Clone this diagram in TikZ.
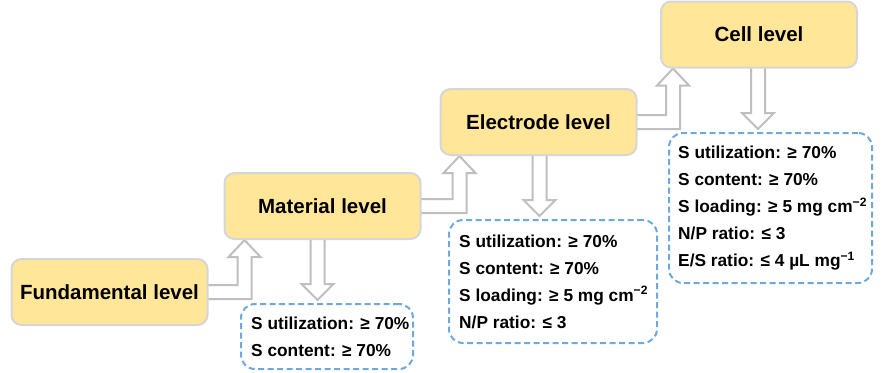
\documentclass[tikz,border=0pt]{standalone}
\usepackage{fontspec}
\setmainfont{Liberation Sans}
\usetikzlibrary{calc}
\pgfdeclarelayer{bg}
\pgfsetlayers{bg,main}
\definecolor{boxfill}{HTML}{FFE699}
\definecolor{boxline}{HTML}{D6D6D6}
\definecolor{arrline}{HTML}{BFBFBF}
\definecolor{dashblue}{HTML}{6FA8DC}
\tikzset{
 levelbox/.style={draw=boxline, line width=2pt, fill=boxfill, rounded corners=10pt,
   minimum width=196pt, minimum height=66pt, inner sep=0pt,
   font=\fontsize{20.5}{24}\selectfont\bfseries},
 specbox/.style={draw=dashblue, line width=2pt, dash pattern=on 6pt off 3.5pt,
   rounded corners=14pt, inner sep=0pt},
 spectext/.style={align=left, inner sep=0pt, anchor=west,
   font=\fontsize{17.3}{27}\selectfont\bfseries},
 hollow/.style={draw=arrline, line width=2pt, fill=white, line join=miter}
}
\newcommand\upelbow[3]{%
 \begin{pgfonlayer}{bg}
 \draw[hollow] let \p1=(#1.east), \p2=(#2.south west) in
  (\x1-4pt,\y1+7pt) -- (\x2+#3pt-7pt,\y1+7pt) -- (\x2+#3pt-7pt,\y2-17pt)
  -- (\x2+#3pt-16pt,\y2-17pt) -- (\x2+#3pt,\y2) -- (\x2+#3pt+16pt,\y2-17pt)
  -- (\x2+#3pt+7pt,\y2-17pt) -- (\x2+#3pt+7pt,\y1-7pt) -- (\x1-4pt,\y1-7pt) -- cycle;
 \end{pgfonlayer}}
\newcommand\downarr[3]{%
 \begin{pgfonlayer}{bg}
 \draw[hollow] let \p1=([xshift=#3]#1.south), \p2=(#2.north) in
  (\x1-7pt,\y1+4pt) -- (\x1-7pt,\y2+19pt) -- (\x1-16pt,\y2+19pt) -- (\x1,\y2+3pt)
  -- (\x1+16pt,\y2+19pt) -- (\x1+7pt,\y2+19pt) -- (\x1+7pt,\y1+4pt) -- cycle;
 \end{pgfonlayer}}
\begin{document}
\begin{tikzpicture}[x=1pt,y=-1pt]
\useasboundingbox (0,0) rectangle (885,372);
% level boxes
\node[levelbox] (fund) at (109.5,292) {Fundamental level};
\node[levelbox] (mat) at (322.5,206) {Material level};
\node[levelbox] (elec) at (538.5,122) {Electrode level};
\node[levelbox] (cell) at (759,34.5) {Cell level};
% spec boxes
\node[specbox, minimum width=172pt, minimum height=65pt] (matspec) at (327,336.5) {};
\node[spectext] (matspectext) at ([xshift=11pt]matspec.west)
 {S utilization: ≥ 70\%\\S content: ≥ 70\%};
\node[specbox, minimum width=208pt, minimum height=123pt] (elecspec) at (553,281.5) {};
\node[spectext] (elecspectext) at ([xshift=11pt]elecspec.west)
 {S utilization: ≥ 70\%\\S content: ≥ 70\%\\S loading: ≥ 5 mg cm\textsuperscript{−2}\\N/P ratio: ≤ 3};
\node[specbox, minimum width=203pt, minimum height=150pt] (cellspec) at (770.5,208) {};
\node[spectext] (cellspectext) at ([xshift=10pt]cellspec.west)
 {S utilization: ≥ 70\%\\S content: ≥ 70\%\\S loading: ≥ 5 mg cm\textsuperscript{−2}\\N/P ratio: ≤ 3\\E/S ratio: ≤ 4 µL mg\textsuperscript{−1}};
% arrows
\upelbow{fund}{mat}{21}
\upelbow{mat}{elec}{20}
\upelbow{elec}{cell}{13}
\downarr{mat}{matspec}{-5pt}
\downarr{elec}{elecspec}{1pt}
\downarr{cell}{cellspec}{-1pt}
\end{tikzpicture}
\end{document}
